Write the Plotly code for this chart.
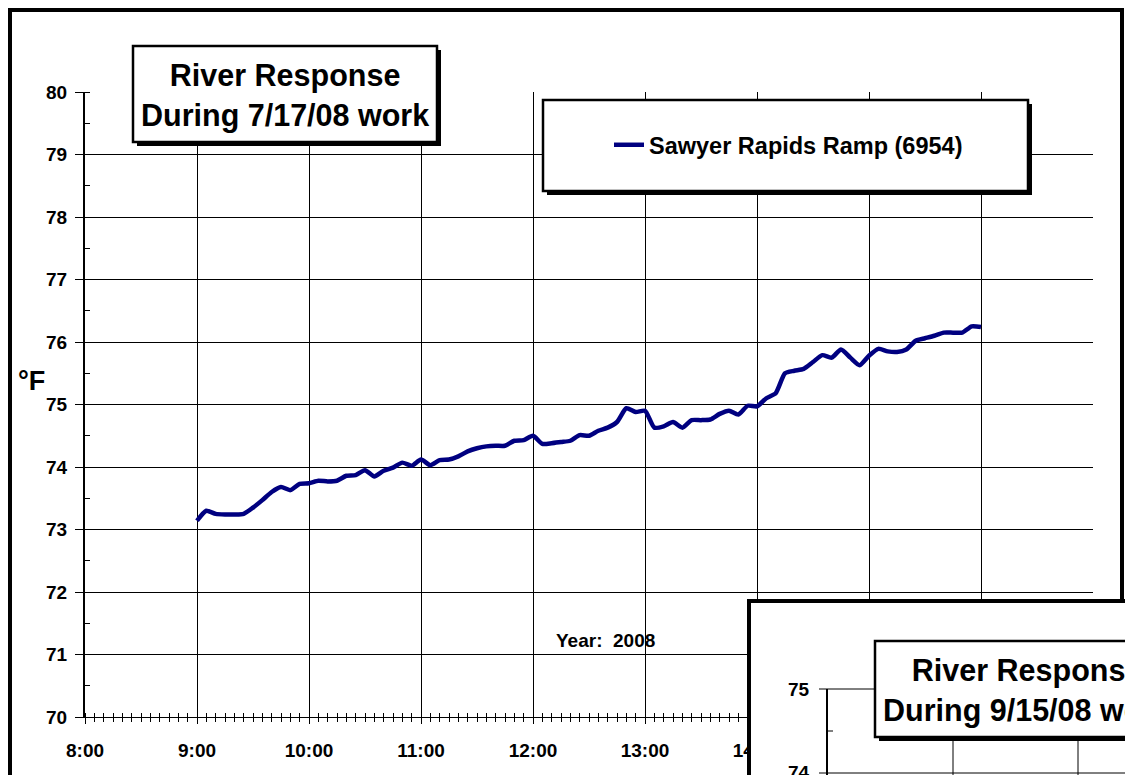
import pandas as pd
import plotly.graph_objects as go

# readings every 5 minutes, 9:00 -> 16:00 on 7/17/08
times = pd.date_range('2008-07-17 09:00', '2008-07-17 16:00', freq='5min')
temps_f = [
    73.14, 73.30, 73.25, 73.24, 73.24, 73.25, 73.35, 73.47, 73.60, 73.68, 73.63, 73.73,
    73.74, 73.78, 73.77, 73.78, 73.86, 73.87, 73.95, 73.85, 73.94, 73.99, 74.07, 74.02,
    74.12, 74.03, 74.11, 74.12, 74.17, 74.25, 74.30, 74.33, 74.34, 74.34, 74.42, 74.43,
    74.50, 74.37, 74.38, 74.40, 74.42, 74.51, 74.50, 74.58, 74.63, 74.72, 74.94, 74.88,
    74.90, 74.63, 74.65, 74.72, 74.63, 74.75, 74.75, 74.76, 74.85, 74.90, 74.84, 74.98,
    74.97, 75.10, 75.18, 75.50, 75.54, 75.57, 75.68, 75.79, 75.75, 75.88, 75.75, 75.63,
    75.78, 75.89, 75.85, 75.84, 75.88, 76.02, 76.06, 76.10, 76.15, 76.15, 76.15, 76.25,
    76.24,
]
series_name = 'Sawyer Rapids Ramp (6954)'
x_range = ['2008-07-17 08:00', '2008-07-17 17:00']
y_range = [70, 80]
inset_ticks = ['75', '74']

FONT = 'Liberation Sans, Arial, sans-serif'
OFF = 8  # page body margin
W, H = 1133 - OFF, 775 - OFF
L, R, T, B = 85 - OFF, 40, 92 - OFF, 58


# screen pixel -> paper coords
def px(x):
    return (x - OFF - L) / (W - L - R)


def py(y):
    return (H - B - (y - OFF)) / (H - T - B)


def box(x0, y0, x1, y1, **kw):
    return dict(type='rect', xref='paper', yref='paper', layer='above',
                x0=px(x0), x1=px(x1), y0=py(y1), y1=py(y0), **kw)


def hline(x0, x1, y, width=1):
    return dict(type='line', xref='paper', yref='paper', layer='above',
                x0=px(x0), x1=px(x1), y0=py(y), y1=py(y), line=dict(color='black', width=width))


def vline(x, y0, y1, width=1):
    return dict(type='line', xref='paper', yref='paper', layer='above',
                x0=px(x), x1=px(x), y0=py(y0), y1=py(y1), line=dict(color='black', width=width))


fig = go.Figure()
fig.add_trace(go.Scatter(x=times, y=temps_f, mode='lines', name=series_name,
                         line=dict(color='#000080', width=4.5, shape='spline', smoothing=0.6)))
# helper trace so the second (tick-only) x axis is drawn
fig.add_trace(go.Scatter(x=times, y=temps_f, xaxis='x2', mode='lines', showlegend=False,
                         hoverinfo='skip', line=dict(width=0), opacity=0))

shapes = [
    # outer chart frame
    box(10, 10, 1122, 800, line=dict(color='black', width=4)),
    # title box
    box(137, 50, 441, 146, fillcolor='black', line=dict(width=0)),
    box(133, 46, 437, 142, fillcolor='white', line=dict(color='black', width=2.5)),
    # legend box
    box(547, 104, 1032, 195, fillcolor='black', line=dict(width=0)),
    box(543, 100, 1028, 191, fillcolor='white', line=dict(color='black', width=2.5)),
    # overlapping second chart
    box(749, 601, 1145, 800, fillcolor='white', line=dict(color='black', width=4)),
    vline(827, 689, 800, 2),
    hline(819, 1145, 689),
    hline(819, 1145, 773),
    hline(827, 833, 731),
    vline(953, 689, 800),
    vline(1078, 689, 800),
    box(879, 645, 1183, 741, fillcolor='black', line=dict(width=0)),
    box(875, 641, 1179, 737, fillcolor='white', line=dict(color='black', width=2.5)),
]

annotations = [
    dict(text='<b>River Response<br>During 7/17/08 work</b>', x=px(285), y=py(95),
         font=dict(size=30.5, family=FONT, color='black')),
    dict(text='<b>°F</b>', x=px(31), y=py(381), font=dict(size=27, family=FONT, color='black')),
    dict(text='<b>Year:&nbsp; 2008</b>', x=px(605), y=py(640),
         font=dict(size=19, family=FONT, color='black')),
    dict(text='<b>' + inset_ticks[0] + '</b>', x=px(812), y=py(689), xanchor='right',
         font=dict(size=19, family=FONT, color='black')),
    dict(text='<b>' + inset_ticks[1] + '</b>', x=px(812), y=py(773), xanchor='right',
         font=dict(size=19, family=FONT, color='black')),
    dict(text='<b>River Response<br>During 9/15/08 work</b>', x=px(1027), y=py(690),
         font=dict(size=30.5, family=FONT, color='black')),
]
for a in annotations:
    a.setdefault('xanchor', 'center')
    a.update(xref='paper', yref='paper', yanchor='middle', showarrow=False)

fig.update_layout(
    width=W, height=H,
    margin=dict(l=L, r=R, t=T, b=B),
    plot_bgcolor='white', paper_bgcolor='white',
    font=dict(family=FONT, color='black'),
    shapes=shapes,
    annotations=annotations,
    legend=dict(x=px(609), y=py(145), xanchor='left', yanchor='middle',
                bgcolor='rgba(0,0,0,0)', borderwidth=0,
                font=dict(size=23.5, family=FONT, color='black', weight='bold')),
    showlegend=True,
    xaxis=dict(range=x_range, type='date', dtick=3600000, tick0='2008-07-17 08:00',
               tickformat='%-H:%M', showgrid=True, gridcolor='black', gridwidth=1,
               showline=True, linecolor='black', linewidth=1,
               ticks='outside', ticklen=6, tickcolor='black', ticklabelstandoff=10,
               tickfont=dict(size=19, family=FONT, weight='bold'),
               minor=dict(dtick=300000, ticks='inside', ticklen=4, tickcolor='black', showgrid=False)),
    xaxis2=dict(range=x_range, type='date', overlaying='x', anchor='y', side='bottom',
                dtick=300000, showticklabels=False, showgrid=False, zeroline=False,
                ticks='outside', ticklen=4, tickcolor='black'),
    yaxis=dict(range=y_range, dtick=1, showgrid=True, gridcolor='black', gridwidth=1,
               showline=True, linecolor='black', linewidth=2, zeroline=False,
               ticks='outside', ticklen=8, tickcolor='black', ticklabelstandoff=4,
               tickfont=dict(size=19, family=FONT, weight='bold'),
               minor=dict(dtick=0.5, ticks='inside', ticklen=5, tickcolor='black', showgrid=False)),
)

fig.write_html('out.html')
